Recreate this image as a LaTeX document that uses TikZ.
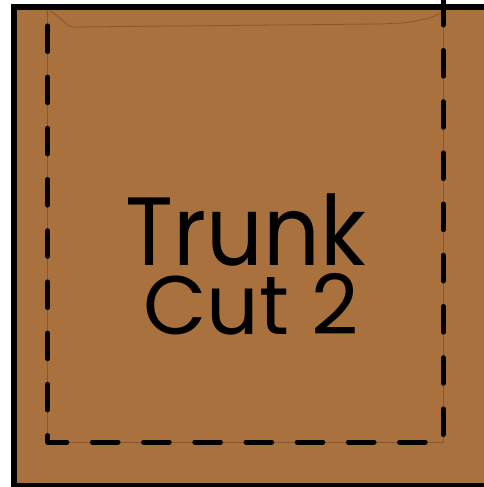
\documentclass[tikz,border=0pt]{standalone}
\usepackage{fontspec}
\setmainfont{Poppins}
\definecolor{wood}{RGB}{168,113,62}
\definecolor{seam}{RGB}{135,88,45}
\begin{document}
\begin{tikzpicture}[x=1pt,y=-1pt,
  border/.style={line width=6pt,black},
  cutline/.style={line width=5pt,line cap=round,line join=round,black,dash pattern=on 25.6pt off 25.6pt,dash phase=0.7pt},
  seamline/.style={line width=0.8pt,seam},
  lbl/.style={inner sep=0pt,anchor=base}]
\useasboundingbox (0,0) rectangle (484,487);
\clip (0,0) rectangle (484,487);
\fill[wood] (14,7) rectangle (490,492);
\draw[seamline] (443.3,10) -- (443.3,442) -- (47.7,442) -- (47.7,10);
\draw[seamline] (50,11) .. controls (60,16) and (64,24) .. (72,27) -- (380,24) -- (403,23) .. controls (425,20) and (440,16) .. (443.3,10);
\draw[cutline] (443.3,0) -- (443.3,442) -- (47.7,442) -- (47.7,12);
\draw[border] (490,7) -- (14,7) -- (14,486) -- (490,486);
\node[lbl,text depth=0pt,text height=68pt] (trunk) at (246,265) {\scalebox{0.915}[1]{\fontsize{97}{97}\selectfont Trunk}};
\node[lbl,text depth=1pt,text height=60pt] (cut) at (251,334) {\scalebox{0.99}[1]{\fontsize{83}{83}\selectfont Cut 2}};
\end{tikzpicture}
\end{document}
